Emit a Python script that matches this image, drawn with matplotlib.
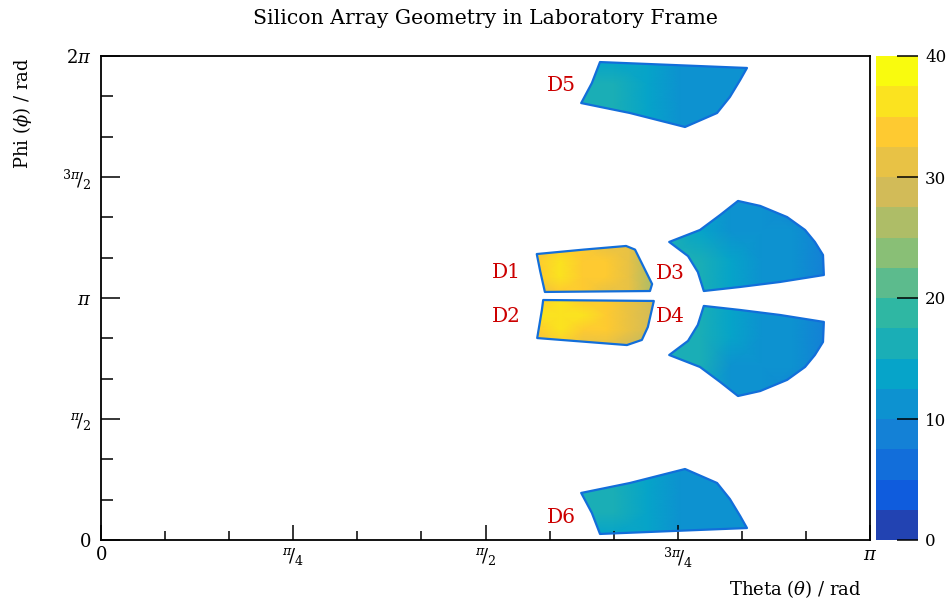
import numpy as np
import matplotlib
matplotlib.use('Agg')
import matplotlib.pyplot as plt
from matplotlib.colors import LinearSegmentedColormap, ListedColormap, BoundaryNorm
from matplotlib.patches import Polygon
from matplotlib.cm import ScalarMappable

plt.rcParams['font.family'] = ['DejaVu Serif']
plt.rcParams['mathtext.fontset'] = 'dejavuserif'

# ---------------- data (degrees: theta, phi) ----------------
det_names = ['D1', 'D2', 'D3', 'D4', 'D5', 'D6']

d1_outline = [(102.0, 212.7), (113.0, 216.0), (122.9, 218.7), (125.0, 216.0),
              (129.0, 190.4), (128.5, 185.2), (103.9, 184.5), (102.8, 200.0)]
d2_outline = [(103.5, 178.5), (129.4, 177.8), (128.0, 158.4), (126.6, 148.8),
              (123.1, 145.0), (102.1, 150.2), (103.2, 171.1)]
d3_outline = [(133.0, 221.7), (140.2, 230.6), (144.9, 241.7), (149.1, 252.2),
              (154.3, 248.5), (160.6, 240.2), (164.8, 230.6), (167.1, 221.7),
              (169.0, 212.0), (169.2, 197.1), (158.9, 191.9), (149.6, 188.2),
              (141.1, 185.2), (139.7, 199.3), (137.4, 211.2)]
d4_outline = [(133.0, 137.6), (140.2, 128.7), (144.9, 117.6), (149.1, 107.1),
              (154.3, 110.8), (160.6, 119.1), (164.8, 128.7), (167.1, 137.6),
              (169.0, 147.3), (169.2, 162.2), (158.9, 167.4), (149.6, 171.1),
              (141.1, 174.1), (139.7, 160.0), (137.4, 148.1)]
d5_outline = [(116.8, 355.5), (151.2, 351.1), (149.6, 342.1), (147.2, 329.5),
              (144.2, 317.6), (136.7, 307.2), (123.8, 317.6), (112.4, 325.0),
              (114.9, 339.9)]
d6_outline = [(116.8, 4.5), (151.2, 8.9), (149.6, 17.9), (147.2, 30.5),
              (144.2, 42.4), (136.7, 52.8), (123.8, 42.4), (112.4, 35.0),
              (114.9, 20.1)]

# counts per detector: rows = phi (low -> high), cols = theta (low -> high)
d1_counts = [[32, 34, 33, 32, 30, 26],
             [34, 35, 34, 33, 31, 27],
             [34, 35, 34, 33, 31, 27],
             [32, 34, 34, 32, 30, 27]]
d2_counts = [[31, 33, 32, 31, 29, 27],
             [34, 35, 34, 33, 31, 28],
             [35, 36, 35, 34, 32, 29],
             [33, 35, 34, 33, 31, 28]]
d3_counts = [[17, 16, 13, 11, 10, 9],
             [17, 15, 13, 11, 10, 9],
             [15, 14, 12, 11, 10, 9],
             [13, 13, 12, 10, 9, 9]]
d4_counts = [[13, 13, 12, 10, 9, 9],
             [16, 15, 12, 11, 10, 9],
             [17, 15, 13, 11, 10, 9],
             [16, 15, 13, 11, 10, 9]]
d5_counts = [[16, 15, 14, 12, 11, 10],
             [16, 15, 14, 12, 11, 10],
             [15, 15, 13, 12, 11, 10],
             [14, 14, 13, 12, 11, 10]]
d6_counts = [[13, 14, 13, 12, 11, 10],
             [15, 15, 14, 12, 11, 10],
             [15, 15, 14, 12, 11, 10],
             [15, 15, 14, 12, 11, 10]]

outlines = [d1_outline, d2_outline, d3_outline, d4_outline, d5_outline, d6_outline]
counts = [d1_counts, d2_counts, d3_counts, d4_counts, d5_counts, d6_counts]

# label anchor positions (degrees)
label_pos = [(94.8, 198.6), (94.8, 165.9), (133.2, 197.9),
             (133.2, 165.9), (107.7, 338.4), (107.7, 16.4)]

z_min, z_max, n_levels = 0, 40, 16
x_tick_labels = [r'$0$', r'$^{\pi}\!/_{4}$', r'$^{\pi}\!/_{2}$',
                 r'$^{3\pi}\!/_{4}$', r'$\pi$']
y_tick_labels = [r'$0$', r'$^{\pi}\!/_{2}$', r'$\pi$',
                 r'$^{3\pi}\!/_{2}$', r'$2\pi$']
cbar_ticks = [0, 10, 20, 30, 40]

# ---------------- colormap (ROOT kBird) ----------------
stops = [0.0, 0.125, 0.25, 0.375, 0.5, 0.625, 0.75, 0.875, 1.0]
red = [0.2082, 0.0592, 0.0780, 0.0232, 0.1802, 0.5301, 0.8186, 0.9956, 0.9764]
green = [0.1664, 0.3599, 0.5041, 0.6419, 0.7178, 0.7492, 0.7328, 0.7862, 0.9832]
blue = [0.5293, 0.8684, 0.8385, 0.7914, 0.6425, 0.4662, 0.3499, 0.1968, 0.0539]
bird = LinearSegmentedColormap.from_list('bird', list(zip(stops, zip(red, green, blue))))
cmap = ListedColormap([bird((i + 1) / n_levels) for i in range(n_levels)])
levels = np.linspace(z_min, z_max, n_levels + 1)
norm = BoundaryNorm(levels, n_levels)

# ---------------- figure ----------------
fig = plt.figure(figsize=(9.49, 5.99), dpi=100)
ax = fig.add_axes([101 / 949, 1 - 540 / 599, 769 / 949, 484 / 599])
ax.set_xlim(0, np.pi)
ax.set_ylim(0, 2 * np.pi)

rim_color = bird(3 / 16)
for outline, cnt in zip(outlines, counts):
    pts = np.deg2rad(np.array(outline))
    cnt = np.array(cnt, dtype=float)
    nr, nc = cnt.shape
    xs = np.linspace(pts[:, 0].min(), pts[:, 0].max(), nc)
    ys = np.linspace(pts[:, 1].min(), pts[:, 1].max(), nr)
    X, Y = np.meshgrid(xs, ys)
    mesh = ax.pcolormesh(X, Y, cnt, cmap=cmap, norm=norm, shading='gouraud', zorder=1)
    poly = Polygon(pts, closed=True, facecolor='none', edgecolor=rim_color,
                   linewidth=1.6, joinstyle='round', zorder=2)
    ax.add_patch(poly)
    mesh.set_clip_path(poly)

for name, (tx, ty) in zip(det_names, label_pos):
    ax.text(np.deg2rad(tx), np.deg2rad(ty), name, color='#cc0000', fontsize=14.5,
            ha='center', va='center', zorder=3)

ax.set_xticks(np.arange(5) * np.pi / 4)
ax.set_xticks(np.arange(13) * np.pi / 12, minor=True)
ax.set_yticks(np.arange(5) * np.pi / 2)
ax.set_yticks(np.arange(13) * np.pi / 6, minor=True)
ax.set_xticklabels(x_tick_labels)
ax.set_yticklabels(y_tick_labels)
ax.tick_params(axis='x', which='major', direction='in', length=11, width=1.1,
               labelsize=13, pad=4, top=False)
ax.tick_params(axis='x', which='minor', direction='in', length=6.5, width=1.1, top=False)
ax.tick_params(axis='y', which='major', direction='in', length=14, width=1.1,
               labelsize=13, pad=7, right=False)
ax.tick_params(axis='y', which='minor', direction='in', length=8.5, width=1.1, right=False)
for s in ax.spines.values():
    s.set_linewidth(1.3)

# colorbar
cax = fig.add_axes([876 / 949, 1 - 540 / 599, 42 / 949, 484 / 599])
cb = fig.colorbar(ScalarMappable(norm=norm, cmap=cmap), cax=cax, ticks=cbar_ticks)
cb.outline.set_visible(False)
cax.tick_params(direction='in', length=15, width=1.1, labelsize=12, pad=5)
cax.minorticks_off()

# titles
fig.text(485.5 / 949, 1 - 18 / 599, 'Silicon Array Geometry in Laboratory Frame',
         ha='center', va='center', fontsize=14.7)
fig.text(862 / 949, 1 - 589 / 599, r'Theta $(\theta)$ / rad', ha='right', va='center',
         fontsize=13)
fig.text(22 / 949, 1 - 58 / 599, r'Phi $(\phi)$ / rad', ha='center', va='top',
         rotation=90, fontsize=13)

fig.savefig('out.png', dpi=100)
